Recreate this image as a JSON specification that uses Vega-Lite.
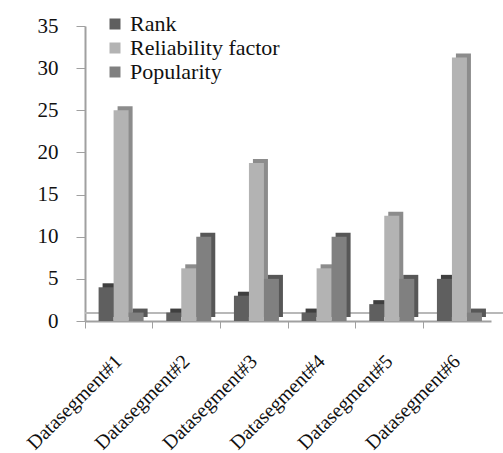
{
  "$schema": "https://vega.github.io/schema/vega-lite/v6.json",
  "width": 406,
  "height": 295,
  "autosize": "none",
  "padding": {"left": 85, "top": 26, "right": 12, "bottom": 132},
  "background": "white",
  "config": {
    "view": {"stroke": null},
    "font": "Liberation Serif, serif",
    "axis": {"labelFont": "Liberation Serif, serif", "labelColor": "#111111", "domainColor": "#a0a0a0", "tickColor": "#a0a0a0", "grid": false, "title": null},
    "legend": {"labelFont": "Liberation Serif, serif", "labelColor": "#111111"}
  },
  "data": {
    "values": [
      {"segment": "Datasegment#1", "series": "Rank", "value": 4},
      {"segment": "Datasegment#1", "series": "Reliability factor", "value": 25},
      {"segment": "Datasegment#1", "series": "Popularity", "value": 1},
      {"segment": "Datasegment#2", "series": "Rank", "value": 1},
      {"segment": "Datasegment#2", "series": "Reliability factor", "value": 6.25},
      {"segment": "Datasegment#2", "series": "Popularity", "value": 10},
      {"segment": "Datasegment#3", "series": "Rank", "value": 3},
      {"segment": "Datasegment#3", "series": "Reliability factor", "value": 18.75},
      {"segment": "Datasegment#3", "series": "Popularity", "value": 5},
      {"segment": "Datasegment#4", "series": "Rank", "value": 1},
      {"segment": "Datasegment#4", "series": "Reliability factor", "value": 6.25},
      {"segment": "Datasegment#4", "series": "Popularity", "value": 10},
      {"segment": "Datasegment#5", "series": "Rank", "value": 2},
      {"segment": "Datasegment#5", "series": "Reliability factor", "value": 12.5},
      {"segment": "Datasegment#5", "series": "Popularity", "value": 5},
      {"segment": "Datasegment#6", "series": "Rank", "value": 5},
      {"segment": "Datasegment#6", "series": "Reliability factor", "value": 31.25},
      {"segment": "Datasegment#6", "series": "Popularity", "value": 1}
    ]
  },
  "encoding": {
    "x": {
      "field": "segment", "type": "nominal", "sort": null,
      "scale": {"paddingInner": 0, "paddingOuter": 0},
      "axis": {"labelAngle": -45, "labelFontSize": 20, "labelAlign": "right", "labelBaseline": "middle", "bandPosition": 0, "tickSize": 7, "domainWidth": 2, "labelPadding": 30}
    },
    "y": {
      "field": "value", "type": "quantitative",
      "scale": {"domain": [0, 35], "nice": false},
      "axis": {"values": [0, 5, 10, 15, 20, 25, 30, 35], "labelFontSize": 21, "tickSize": 9, "labelPadding": 18, "domainWidth": 2, "labelBaseline": "middle"}
    }
  },
  "layer": [
    {
      "mark": {"type": "rule", "color": "#b8b8b8", "strokeWidth": 1.5, "yOffset": -8, "xOffset": 12},
      "encoding": {"y": {"datum": 0}, "x": null}
    },
    {
      "mark": {"type": "bar", "yOffset": -4},
      "encoding": {
        "xOffset": {"field": "series", "type": "nominal", "sort": ["Rank", "Reliability factor", "Popularity"], "scale": {"paddingInner": 0, "paddingOuter": 0.755, "align": 0.6, "range": [4, 71.67]}},
        "color": {
          "field": "series", "type": "nominal",
          "scale": {"domain": ["Rank", "Reliability factor", "Popularity"], "range": ["#3f3f3f", "#8c8c8c", "#575757"]},
          "legend": null
        }
      }
    },
    {
      "mark": {"type": "bar"},
      "encoding": {
        "xOffset": {"field": "series", "type": "nominal", "sort": ["Rank", "Reliability factor", "Popularity"], "scale": {"paddingInner": 0, "paddingOuter": 0.755, "align": 0.6}},
        "color": {
          "field": "series", "type": "nominal",
          "scale": {"domain": ["Rank", "Reliability factor", "Popularity"], "range": ["#5f5f5f", "#b3b3b3", "#808080"]},
          "legend": {
            "title": null, "orient": "none", "legendX": 19, "legendY": -13,
            "symbolType": "square", "symbolSize": 121, "symbolStrokeWidth": 0,
            "labelFont": "Liberation Serif, serif",
            "labelFontSize": 22, "labelOffset": 4, "rowPadding": 2, "padding": 0
          }
        }
      }
    }
  ],
  "resolve": {"scale": {"color": "independent", "xOffset": "independent"}}
}
